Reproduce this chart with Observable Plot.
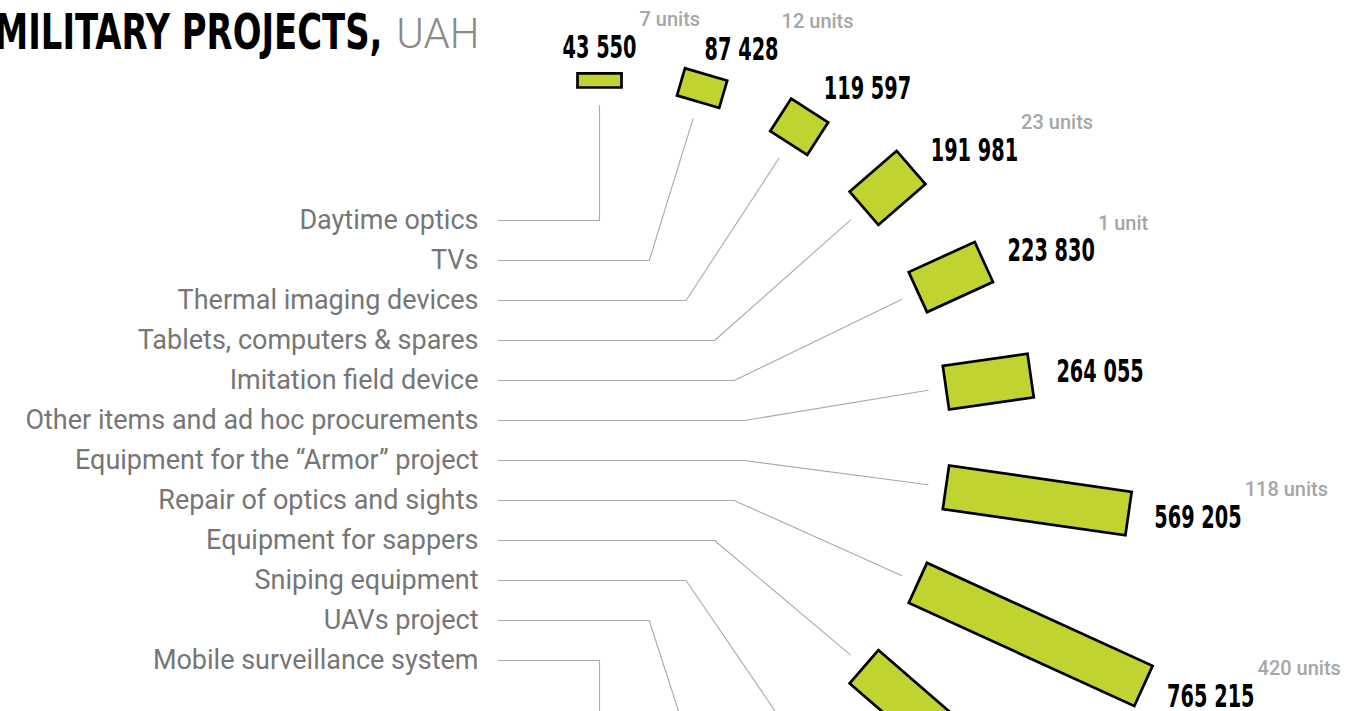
<!DOCTYPE html>
<html><head><meta charset="utf-8">
<script src="https://cdn.jsdelivr.net/npm/d3@7"></script>
<script src="https://cdn.jsdelivr.net/npm/@observablehq/plot@0.6"></script>
<style>
html,body{margin:0;padding:0;background:#fff;overflow:hidden;}
#chart svg{display:block;}
</style></head><body><div id="chart"></div>
<script>
// ---- data ----
const categories = ["Daytime optics","TVs","Thermal imaging devices","Tablets, computers & spares","Imitation field device","Other items and ad hoc procurements","Equipment for the \u201cArmor\u201d project","Repair of optics and sights","Equipment for sappers","Sniping equipment","UAVs project","Mobile surveillance system"];
// last four are outside the visible crop: estimated (must exceed 765 215, sorted ascending)
const amounts = [43550, 87428, 119597, 191981, 223830, 264055, 569205, 765215, 1043000, 1296000, 1874000, 2750000];
const unitCounts = [7, 12, null, 23, 1, null, 118, 420, null, null, null, null];
const titleMain = "MILITARY PROJECTS,";
const titleUnit = "UAH";

// ---- layout ----
const W = 1363, H = 711;
const cx = 599, cy = 437, R0 = 350, barW = 44, leaderR = 332;
const labelRight = 478, lineStart = 498;
const condensed = "DejaVu Sans Condensed";

const rows = categories.map((c, i) => ({cat: c, amount: amounts[i], units: unitCounts[i]}));

const angle = d3.scalePoint(categories, [-90, 90]);          // degrees, screen coords
const labelY = d3.scalePoint(categories, [220, 660]);
const lengthCfg = {type: "linear", domain: [0, 765215], range: [0, 248]};
const len = d3.scaleLinear(lengthCfg.domain, lengthCfg.range);
const rad = d => angle(d.cat) * Math.PI / 180;

const fmt = d3.formatLocale({thousands: " ", grouping: [3], decimal: ".", currency: ["", ""]}).format(",");
const textW = s => s.replace(/ /g, "").length * 13.4 + (s.split(" ").length - 1) * 7;

// leader polylines
const leaders = rows.flatMap(d => {
  const a = rad(d), ly = labelY(d.cat);
  const kx = cx + 146 * Math.pow(Math.max(0, Math.cos(a)), 0.85);
  return [
    {cat: d.cat, x: lineStart, y: ly},
    {cat: d.cat, x: kx, y: ly},
    {cat: d.cat, x: cx + leaderR * Math.cos(a), y: cy + leaderR * Math.sin(a)}
  ];
});

// value labels
const valueLabels = rows.map(d => {
  const a = rad(d), r = R0 + len(d.amount) + 26;
  const s = fmt(d.amount), w = textW(s);
  const px = cx + r * Math.cos(a), py = cy + r * Math.sin(a);
  const x = px + (w / 2) * Math.min(1, 2.7 * Math.max(0, Math.cos(a)));
  return {cat: d.cat, text: s, w, x, y: py, units: d.units};
});
const unitLabels = valueLabels.filter(d => d.units != null).map(d => ({
  text: d.units === 1 ? "1 unit" : `${d.units} units`, x: d.x + d.w / 2 + 3, y: d.y - 28
}));

const barShape = {draw(context, l) { context.rect(-barW / 2, -(R0 + l), barW, l); }};

const plot = Plot.plot({
  width: W, height: H, margin: 0,
  x: {type: "identity", axis: null},
  y: {type: "identity", axis: null},
  length: lengthCfg,
  style: {background: "#fff"},
  marks: [
    Plot.line(leaders, {x: "x", y: "y", z: "cat", stroke: "#a9a9a9", strokeWidth: 1.1, strokeLinejoin: "miter"}),
    Plot.vector(rows, {x: () => cx, y: () => cy, length: "amount", rotate: d => angle(d.cat) + 90,
      anchor: "start", shape: barShape, fill: "#c0d331", stroke: "#000", strokeWidth: 2.7, strokeLinejoin: "miter"}),
    Plot.text(rows, {x: () => labelRight, y: d => labelY(d.cat), text: "cat", textAnchor: "end",
      fontSize: 27, fontFamily: "Roboto", fill: "#767676"}),
    Plot.text(valueLabels, {x: "x", y: "y", text: "text", textAnchor: "middle",
      fontSize: 32, fontWeight: "bold", fontFamily: condensed, fill: "#000"}),
    Plot.text(unitLabels, {x: "x", y: "y", text: "text", textAnchor: "start",
      fontSize: 20, fontWeight: 500, fontFamily: "Roboto", fill: "#a6a6a6"}),
    Plot.text([titleMain], {x: () => -6, y: () => 32, text: d => d, textAnchor: "start",
      fontSize: 50, fontWeight: "bold", fontFamily: condensed, fill: "#000"}),
    Plot.text([titleUnit], {x: () => 479, y: () => 34, text: d => d, textAnchor: "end",
      fontSize: 42, fontWeight: 300, fontFamily: "Roboto", fill: "#8a8a8a"})
  ]
});
document.getElementById("chart").appendChild(plot);

// condense the display-type texts
d3.select(plot).selectAll("text").each(function() {
  const fam = (this.closest("[font-family]") || this).getAttribute("font-family") || "";
  if (!fam.includes("Condensed")) return;
  const s = this.textContent;
  this.setAttribute("textLength", s === titleMain ? 388 : textW(s));
  this.setAttribute("lengthAdjust", "spacingAndGlyphs");
});
</script></body></html>
